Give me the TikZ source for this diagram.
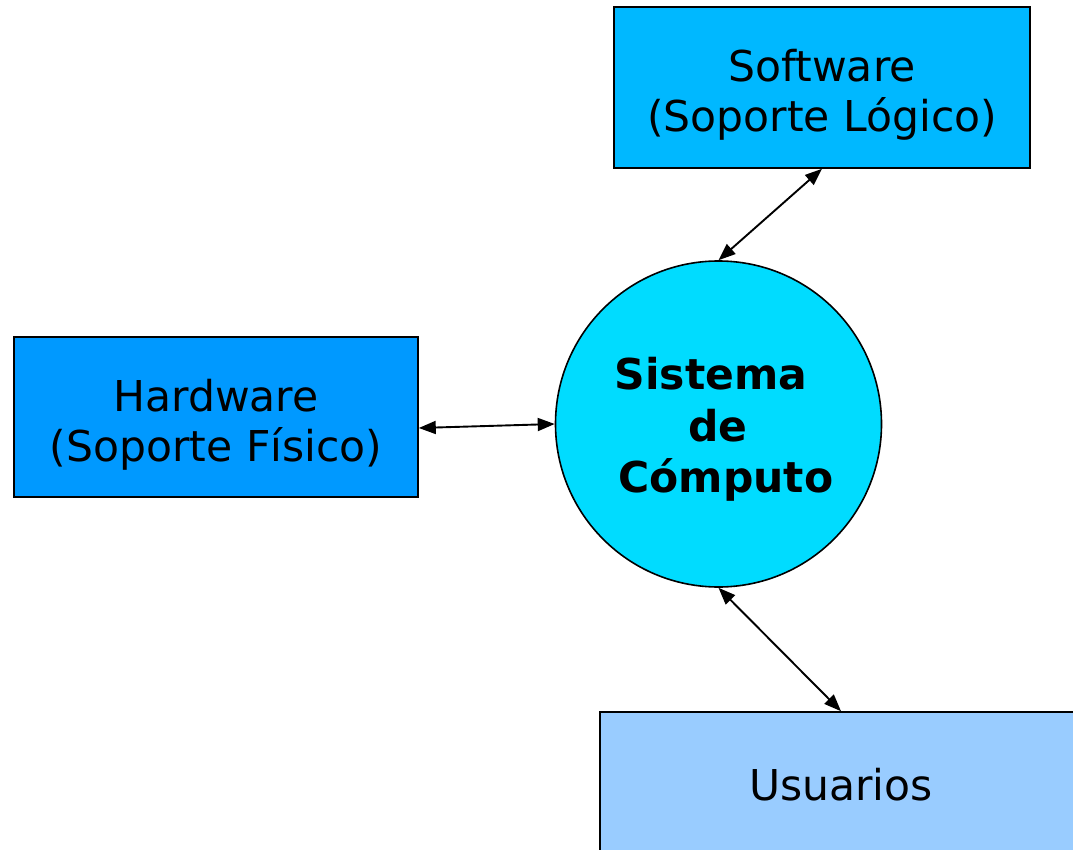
\documentclass[tikz,border=0pt]{standalone}
\usepackage{fontspec}
\setmainfont{DejaVu Sans}
\usetikzlibrary{arrows.meta}
\definecolor{swblue}{HTML}{00B8FF}
\definecolor{hwblue}{HTML}{0099FF}
\definecolor{sysblue}{HTML}{00DCFF}
\definecolor{usblue}{HTML}{99CCFF}
\tikzset{
  box/.style={draw=black, line width=1.6pt, inner sep=0pt},
  lbl/.style={font=\fontsize{42.5}{50}\selectfont, align=center, inner sep=0pt},
  blbl/.style={font=\bfseries\fontsize{42.5}{51.5}\selectfont, align=center, inner sep=0pt},
  link/.style={line width=1.9pt, {Triangle[length=17pt,width=13pt]}-{Triangle[length=17pt,width=13pt]}}
}
\begin{document}
\begin{tikzpicture}[x=1pt,y=-1pt]
\useasboundingbox (0,0) rectangle (1073,850);
\node[box, fill=swblue, minimum width=416pt, minimum height=161pt] (sw) at (822,87.5) {};
\node[box, fill=hwblue, minimum width=404pt, minimum height=160pt] (hw) at (216,417) {};
\node[draw=black, line width=1.6pt, fill=sysblue, circle, minimum size=326pt, inner sep=0pt] (sys) at (718.5,424) {};
\node[box, fill=usblue, minimum width=482pt, minimum height=146pt] (us) at (841,785) {};
\node[lbl] (swt) at (822,95) {Software\\(Soporte Lógico)};
\node[lbl] (hwt) at (216,425) {Hardware\\(Soporte Físico)};
\node[lbl, anchor=base] (ust) at (841,800) {Usuarios};
\node[blbl] (syst) at (718,429.5) {Sistema\hspace*{14pt}\\de\\\hspace*{16pt}Cómputo};
\draw[link] (sw.south) -- (sys.north);
\draw[link] ([yshift=-11pt]hw.east) -- (sys.west);
\draw[link] (sys.south) -- (us.north);
\end{tikzpicture}
\end{document}
